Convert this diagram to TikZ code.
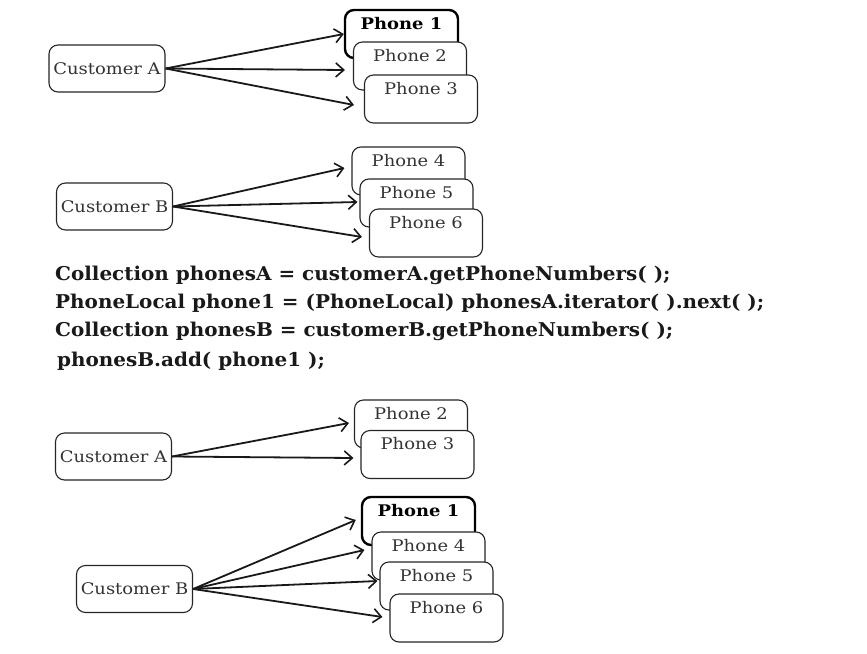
\documentclass[tikz,border=0pt]{standalone}
\usepackage{fontspec}
\usepackage{graphicx}
\setmainfont{DejaVu Serif}
\usetikzlibrary{arrows.meta,calc}
\newcommand{\wtxt}[1]{\scalebox{1.12}[1]{#1}}
\newcommand{\ctxt}[1]{\scalebox{1.05}[1]{#1}}
\tikzset{
  box/.style={draw=black!85, fill=white, rounded corners=9pt, line width=1.1pt},
  cust/.style={box, minimum width=116pt, minimum height=47pt, inner sep=0pt,
    font=\fontsize{16}{18}\selectfont, text=black!80},
  phone/.style={box, minimum width=113pt, inner xsep=0pt, inner ysep=6pt,
    text height=13pt, text depth=23pt, font=\fontsize{16}{18}\selectfont, text=black!80},
  phonebold/.style={phone, line width=2.4pt, draw=black, font=\fontsize{16}{18}\selectfont\bfseries, text=black},
  conn/.style={draw=black!90, line width=1.8pt, -{Straight Barb[length=8pt,width=14pt,line width=1.6pt]}},
  code/.style={anchor=base west, inner sep=0pt, font=\fontsize{19}{21}\selectfont\bfseries, text=black!90}
}
\begin{document}
\begin{tikzpicture}[x=1pt,y=-1pt]
\useasboundingbox[fill=white] (0,0) rectangle (867,653);
% group 1
\node[cust] (ca) at (107,68.5) {\wtxt{Customer A}};
\node[phonebold] (p1) at (401.5,34) {\wtxt{Phone 1}};
\node[phone] (p2) at (410,66) {\wtxt{Phone 2}};
\node[phone] (p3) at (421,99) {\wtxt{Phone 3}};
\draw[conn] (ca.east) -- (p1.west);
\draw[conn] (ca.east) -- ($(p2.west)+(-8,4)$);
\draw[conn] (ca.east) -- ($(p3.west)+(-10,6)$);
% group 2
\node[cust] (cb) at (114.5,206.5) {\wtxt{Customer B}};
\node[phone] (p4) at (408.5,171) {\wtxt{Phone 4}};
\node[phone] (p5) at (416.5,203) {\wtxt{Phone 5}};
\node[phone] (p6) at (426,233) {\wtxt{Phone 6}};
\draw[conn] (cb.east) -- ($(p4.west)+(-7,-3)$);
\draw[conn] (cb.east) -- ($(p5.west)+(-2,-1)$);
\draw[conn] (cb.east) -- ($(p6.west)+(-7,4)$);
% code
\node[code] (l1) at (55,280) {\ctxt{Collection phonesA = customerA.getPhoneNumbers( );}};
\node[code] (l2) at (55,308) {\ctxt{PhoneLocal phone1 = (PhoneLocal) phonesA.iterator( ).next( );}};
\node[code] (l3) at (55,336) {\ctxt{Collection phonesB = customerB.getPhoneNumbers( );}};
\node[code] (l4) at (57,366) {\ctxt{phonesB.add( phone1 );}};
% group 3
\node[cust] (ca2) at (113.5,456.5) {\wtxt{Customer A}};
\node[phone] (q2) at (411,424) {\wtxt{Phone 2}};
\node[phone] (q3) at (417.5,454.5) {\wtxt{Phone 3}};
\draw[conn] (ca2.east) -- ($(q2.west)+(-5,-1)$);
\draw[conn] (ca2.east) -- ($(q3.west)+(-7,3.5)$);
% group 4
\node[cust] (cb2) at (134.5,589) {\wtxt{Customer B}};
\node[phonebold] (q1) at (418.5,521) {\wtxt{Phone 1}};
\node[phone] (q4) at (428.5,556) {\wtxt{Phone 4}};
\node[phone] (q5) at (436.5,586) {\wtxt{Phone 5}};
\node[phone] (q6) at (446.5,618) {\wtxt{Phone 6}};
\draw[conn] (cb2.east) -- ($(q1.west)+(-5,-1)$);
\draw[conn] (cb2.east) -- ($(q4.west)+(-7,-6)$);
\draw[conn] (cb2.east) -- ($(q5.west)+(-2,-5)$);
\draw[conn] (cb2.east) -- ($(q6.west)+(-7,-1)$);
\end{tikzpicture}
\end{document}
